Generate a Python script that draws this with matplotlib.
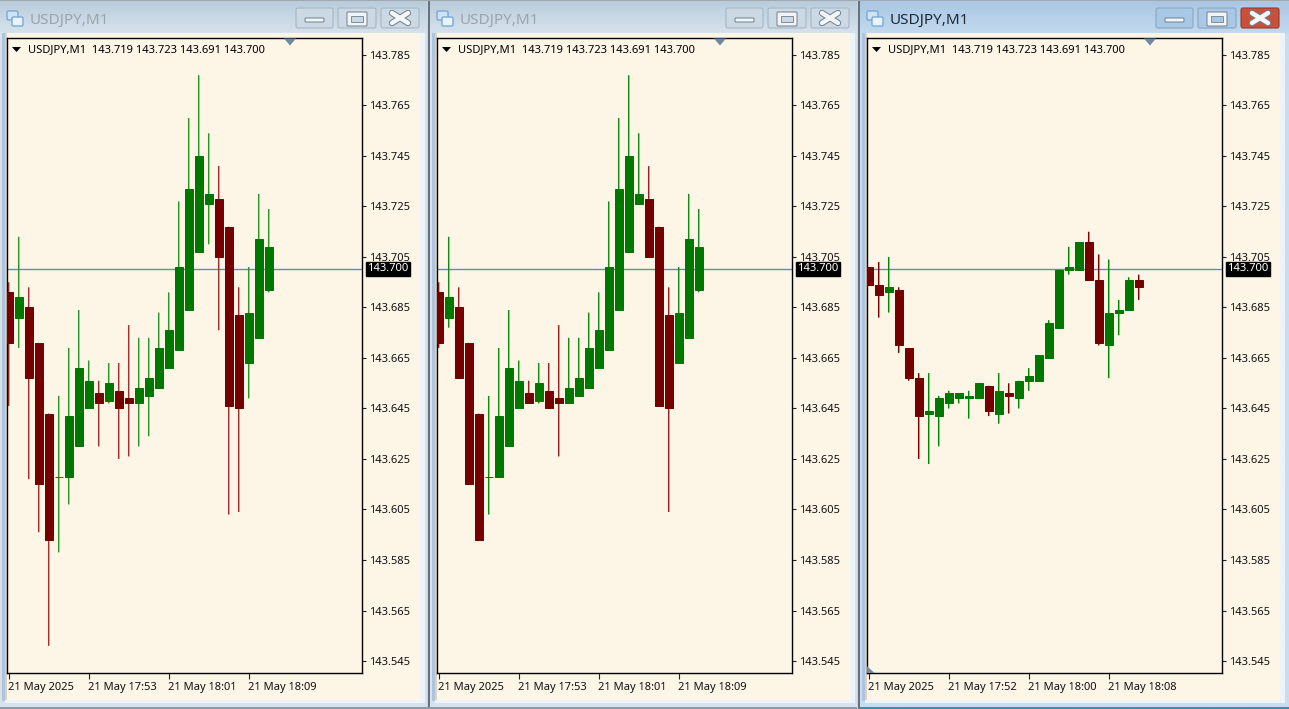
import matplotlib
matplotlib.use("Agg")
import matplotlib.pyplot as plt
import numpy as np
from matplotlib.patches import Rectangle, FancyBboxPatch, Polygon

plt.rcParams['font.family'] = ['Noto Sans', 'DejaVu Sans']

W, H = 1289, 709

# --- data -----------------------------------------------------------------
SYMBOL = "USDJPY,M1"
QUOTE = "143.719 143.723 143.691 143.700"
CURRENT_PRICE_LABEL = "143.700"
CURRENT_PRICE = 143.7004
Y_TICKS = [143.545, 143.565, 143.585, 143.605, 143.625, 143.645, 143.665,
           143.685, 143.705, 143.725, 143.745, 143.765, 143.785]
X_TICK_POS = [0, 8, 16, 24]
X_LABELS_A = ["21 May 2025", "21 May 17:53", "21 May 18:01", "21 May 18:09"]
X_LABELS_C = ["21 May 2025", "21 May 17:52", "21 May 18:00", "21 May 18:08"]

open_a = [143.691, 143.681, 143.685, 143.671, 143.643, 143.618, 143.618, 143.630, 143.645,
          143.651, 143.648, 143.652, 143.649, 143.647, 143.650, 143.653, 143.661, 143.668,
          143.684, 143.707, 143.726, 143.728, 143.717, 143.682, 143.663, 143.673, 143.692]
high_a = [143.695, 143.713, 143.693, 143.671, 143.643, 143.650, 143.669, 143.684, 143.664,
          143.656, 143.663, 143.663, 143.678, 143.673, 143.673, 143.683, 143.691, 143.727,
          143.760, 143.777, 143.754, 143.741, 143.717, 143.693, 143.701, 143.730, 143.724]
low_a = [143.646, 143.669, 143.617, 143.596, 143.551, 143.588, 143.607, 143.630, 143.645,
         143.630, 143.647, 143.625, 143.626, 143.630, 143.634, 143.653, 143.661, 143.668,
         143.684, 143.707, 143.710, 143.676, 143.603, 143.604, 143.649, 143.673, 143.691]
close_a = [143.671, 143.689, 143.657, 143.615, 143.593, 143.618, 143.642, 143.661, 143.656,
           143.647, 143.655, 143.645, 143.647, 143.653, 143.657, 143.669, 143.676, 143.701,
           143.732, 143.745, 143.730, 143.705, 143.646, 143.645, 143.683, 143.712, 143.709]
# middle window: same bars, shorter lower wicks
low_b = [143.669, 143.677, 143.657, 143.615, 143.593, 143.603, 143.618, 143.630, 143.645,
         143.647, 143.647, 143.645, 143.626, 143.647, 143.650, 143.653, 143.661, 143.668,
         143.684, 143.707, 143.726, 143.705, 143.646, 143.604, 143.663, 143.673, 143.691]

open_c = [143.701, 143.694, 143.691, 143.692, 143.669, 143.657, 143.643, 143.642, 143.647,
          143.649, 143.649, 143.649, 143.654, 143.643, 143.651, 143.649, 143.656, 143.656,
          143.665, 143.677, 143.700, 143.700, 143.711, 143.696, 143.670, 143.683, 143.684, 143.696]
high_c = [143.701, 143.703, 143.705, 143.693, 143.669, 143.659, 143.659, 143.650, 143.652,
          143.651, 143.652, 143.655, 143.654, 143.659, 143.655, 143.656, 143.661, 143.666,
          143.680, 143.700, 143.709, 143.711, 143.715, 143.706, 143.704, 143.688, 143.697, 143.698]
low_c = [143.694, 143.681, 143.683, 143.667, 143.656, 143.625, 143.623, 143.630, 143.645,
         143.647, 143.641, 143.649, 143.642, 143.639, 143.643, 143.645, 143.652, 143.656,
         143.665, 143.677, 143.698, 143.700, 143.696, 143.670, 143.657, 143.674, 143.684, 143.688]
close_c = [143.694, 143.690, 143.693, 143.670, 143.657, 143.642, 143.644, 143.649, 143.651,
           143.651, 143.650, 143.655, 143.644, 143.652, 143.650, 143.656, 143.658, 143.666,
           143.679, 143.700, 143.701, 143.711, 143.696, 143.671, 143.683, 143.684, 143.696, 143.693]

# --- styles ---------------------------------------------------------------
BG = "#FDF5E6"
UP = "#007800"
DOWN = "#750000"
PRICE_LINE = "#7088A8"

fig = plt.figure(figsize=(W / 100, H / 100), dpi=100, facecolor="#C9D7E3")

# Chrome layer in pixel coordinates
ch = fig.add_axes([0, 0, 1, 1], zorder=0)
ch.set_xlim(0, W)
ch.set_ylim(H, 0)
ch.axis("off")
# Overlay layer for the small markers that sit on top of the charts
ov = fig.add_axes([0, 0, 1, 1], zorder=5)
ov.set_xlim(0, W)
ov.set_ylim(H, 0)
ov.axis("off")
ov.patch.set_alpha(0)


def grad(x0, x1, y0, y1, top, bottom):
    g = np.linspace(0, 1, 64)[:, None, None]
    t = np.array(matplotlib.colors.to_rgb(top))[None, None, :]
    b = np.array(matplotlib.colors.to_rgb(bottom))[None, None, :]
    ch.imshow(t * (1 - g) + b * g, extent=(x0, x1, y1, y0), aspect="auto", zorder=1,
              interpolation="bilinear")


def button(x0, x1, face, edge, y0=7, y1=29):
    ch.add_patch(FancyBboxPatch((x0 + 1, y0 + 1), x1 - x0 - 2, y1 - y0 - 2,
                                boxstyle="round,pad=0,rounding_size=2", fc=face, ec=edge,
                                lw=0.8, zorder=3))


def window(off, right, active):
    top = "#A9C6E3" if active else "#B9CBDA"
    bot = "#C3DAEE" if active else "#D6E3ED"
    grad(off, right, 0, 34, top, bot)
    grad(off, right, 34, H, "#D6E3ED" if not active else "#C8DDF0",
         "#D6E3ED" if not active else "#C8DDF0")
    # left inner edge
    ch.add_patch(Rectangle((off + 2, 33), 3, 668, fc="#AFC3DA", ec="none", zorder=2))
    # white band around client area
    ch.add_patch(Rectangle((off + 5, 33), 420, 670, fc="#EDF3F8", ec="none", zorder=2))
    # client area
    ch.add_patch(Rectangle((off + 5, 33), 415, 667, fc=BG, ec="none", zorder=2))
    ch.add_patch(Rectangle((off + 5, 33), 2, 667, fc="#DDD2C2", ec="none", zorder=2))
    # title
    ch.text(off + 30, 20, SYMBOL, fontsize=11, va="center", ha="left",
            color="#1F2B38" if active else "#9BA5AE", zorder=4)
    # icon
    ch.add_patch(FancyBboxPatch((off + 7, 11), 11, 9, boxstyle="round,pad=0,rounding_size=1.5",
                                fc="#CFE3F5", ec="#6FA3D8", lw=0.9, zorder=4))
    ch.add_patch(FancyBboxPatch((off + 12, 17), 11, 9, boxstyle="round,pad=0,rounding_size=1.5",
                                fc="#E9F3FB", ec="#6FA3D8", lw=0.9, zorder=4))
    # buttons
    face = "#A9C8E6" if active else "#CBD9E4"
    edge = "#8AA5BF" if active else "#A6B6C3"
    button(off + 295, off + 334, face, edge)
    button(off + 337, off + 377, face, edge)
    button(off + 380, off + 420, "#C9503A" if active else "#CBD9E4", "#9A3A2C" if active else edge)
    ch.add_patch(FancyBboxPatch((off + 305, 18), 19, 4, boxstyle="round,pad=0,rounding_size=1",
                                fc="#F2F4F6", ec="#6E7F8E", lw=0.7, zorder=4))
    ch.add_patch(FancyBboxPatch((off + 347, 12), 20, 14, boxstyle="round,pad=0,rounding_size=1",
                                fc="#F2F4F6", ec="#6E7F8E", lw=0.7, zorder=4))
    ch.add_patch(Rectangle((off + 351, 16), 12, 6, fc=face, ec="#6E7F8E", lw=0.6, zorder=5))
    for sgn in (1, -1):
        ch.plot([off + 392, off + 408], [18 - 5 * sgn, 18 + 5 * sgn], color="#6E7F8E", lw=4.6,
                solid_capstyle="round", zorder=4)
    for sgn in (1, -1):
        ch.plot([off + 392, off + 408], [18 - 5 * sgn, 18 + 5 * sgn], color="#F4F6F8", lw=3.2,
                solid_capstyle="round", zorder=5)
    # shift marker and menu triangle
    ov.add_patch(Polygon([(off + 284, 38.5), (off + 296, 38.5), (off + 290, 45.5)], fc="#6F8AA0",
                         ec="none", zorder=6))
    ov.add_patch(Polygon([(off + 12, 47), (off + 21, 47), (off + 16.5, 52)], fc="black",
                         ec="none", zorder=6))


window(0, 427, False)
window(430, 857, False)
window(860, W, True)
ch.set_xlim(0, W)
ch.set_ylim(H, 0)
ch.add_patch(Rectangle((428, 0), 1.5, H, fc="#66717C", ec="none", zorder=7))
ch.add_patch(Rectangle((858, 0), 1.5, H, fc="#66717C", ec="none", zorder=7))
ch.add_patch(Rectangle((0, 0), W, 1, fc="#9FA9B2", ec="none", zorder=7))
ch.add_patch(Rectangle((0, H - 2), 857, 2, fc="#8E9AA6", ec="none", zorder=7))
ch.add_patch(Rectangle((860, H - 2), W - 860, 2, fc="#3E8FA8", ec="none", zorder=7))


def panel(off, o, h, l, c, labels, wick_up, wick_down, marker=False):
    ax = fig.add_axes([(off + 7.0) / W, (H - 673.3) / H, 355 / W, 635 / H], zorder=2)
    ax.set_facecolor(BG)
    ax.set_xlim(-0.17, 35.33)
    ax.set_ylim(143.54013, 143.79161)
    x = np.arange(len(o))
    o, h, l, c = map(np.asarray, (o, h, l, c))
    up = c >= o
    ax.vlines(x[up], l[up], h[up], color=wick_up, lw=1.05, zorder=2, snap=False)
    ax.vlines(x[~up], l[~up], h[~up], color=wick_down, lw=1.05, zorder=2, snap=False)
    ax.axhline(CURRENT_PRICE, color=PRICE_LINE, lw=1.0, zorder=1)
    ax.bar(x[up], np.abs(c - o)[up], bottom=np.minimum(o, c)[up], width=0.8, color=UP,
           edgecolor=UP, lw=0.72, zorder=3)
    ax.bar(x[~up], np.abs(c - o)[~up], bottom=np.minimum(o, c)[~up], width=0.8, color=DOWN,
           edgecolor=DOWN, lw=0.72, zorder=3)
    for s in ax.spines.values():
        s.set_linewidth(1.0)
        s.set_color("black")
    ax.yaxis.tick_right()
    ax.set_yticks(Y_TICKS)
    ax.set_yticklabels([f"{t:.3f}" for t in Y_TICKS], fontsize=8, color="#111111")
    ax.tick_params(axis="y", length=3, width=0.8, pad=2.0, color="#222222")
    ax.set_xticks(X_TICK_POS)
    ax.set_xticklabels(labels, fontsize=8, color="#111111", ha="left")
    ax.tick_params(axis="x", length=4, width=0.8, pad=2.5, color="#222222")
    for t in ax.get_xticklabels():
        t.set_transform(t.get_transform() + matplotlib.transforms.ScaledTranslation(-1 / 100, 0, fig.dpi_scale_trans))
    # price tag
    ax.text(1 + 5.5 / 355, CURRENT_PRICE, CURRENT_PRICE_LABEL, transform=ax.get_yaxis_transform(),
            fontsize=8.1, color="white", ha="left", va="center", clip_on=False, zorder=10,
            bbox=dict(fc="black", ec="black", boxstyle="square,pad=0.14"))
    ax.text(21 / 355, 1 - 11.5 / 635, SYMBOL + "  " + QUOTE, transform=ax.transAxes,
            fontsize=8.05, color="black", ha="left", va="center")
    if marker:
        ax.add_patch(Polygon([(0, 0), (8 / 355, 0), (0, 7 / 635)], transform=ax.transAxes,
                             fc="#6F8AA0", ec="none", zorder=6))
    return ax


panel(0, open_a, high_a, low_a, close_a, X_LABELS_A, "#2A962A", "#A03030")
panel(430, open_a, high_a, low_b, close_a, X_LABELS_A, "#158A15", "#982020")
panel(860, open_c, high_c, low_c, close_c, X_LABELS_C, "#008800", "#800000", marker=True)

fig.savefig("out.png", dpi=100, facecolor=fig.get_facecolor())
